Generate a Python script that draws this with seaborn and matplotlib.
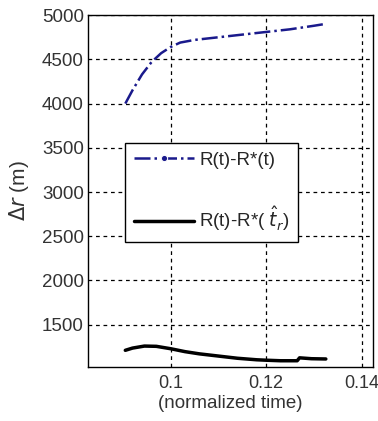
import numpy as np
import pandas as pd
import matplotlib
matplotlib.use("Agg")
import matplotlib.pyplot as plt
import seaborn as sns

# values
t_star = [0.0905, 0.092, 0.094, 0.096, 0.098, 0.100, 0.102, 0.105, 0.110, 0.115, 0.120, 0.125, 0.130, 0.1323]
dr_star = [4000, 4150, 4330, 4470, 4570, 4640, 4690, 4720, 4750, 4780, 4810, 4840, 4880, 4900]

t_hat = [0.0905, 0.092, 0.0945, 0.097, 0.100, 0.103, 0.106, 0.110, 0.114, 0.118, 0.120, 0.123, 0.1265, 0.127, 0.1295, 0.1325]
dr_hat = [1210, 1235, 1258, 1255, 1228, 1195, 1170, 1145, 1120, 1103, 1098, 1092, 1092, 1125, 1115, 1112]

sns.set_style("white")
plt.rcParams['font.family'] = ['Liberation Sans', 'DejaVu Sans']
plt.rcParams['mathtext.fontset'] = 'dejavusans'

fig = plt.figure(figsize=(3.78, 4.21), dpi=100)
ax = fig.add_axes([0.233, 0.128, 0.754, 0.836])

df1 = pd.DataFrame({"t": t_star, "dr": dr_star})
df2 = pd.DataFrame({"t": t_hat, "dr": dr_hat})

sns.lineplot(data=df1, x="t", y="dr", ax=ax, color="#1a1a8c", linestyle="-.", linewidth=1.8,
             label="R(t)-R*(t)")
sns.lineplot(data=df2, x="t", y="dr", ax=ax, color="black", linewidth=2.5,
             label=r"R(t)-R*( $\hat{t}_r$)")

ax.set_xlim(0.0827, 0.1424)
ax.set_ylim(1020, 5000)
ax.set_xticks([0.1, 0.12, 0.14])
ax.set_xticklabels(["0.1", "0.12", "0.14"])
ax.set_yticks([1500, 2000, 2500, 3000, 3500, 4000, 4500, 5000])
ax.grid(True, color="black", linestyle=(0, (3, 3)), linewidth=0.9)
ax.tick_params(axis="y", labelsize=13.5, colors="#333333", length=0, pad=3)
ax.tick_params(axis="x", labelsize=13, colors="#333333", length=0, pad=6)
for s in ax.spines.values():
    s.set_color("black")
    s.set_linewidth(1.0)

ax.set_xlabel("(normalized time)", fontsize=13.5, color="#333333", labelpad=2)
ax.set_ylabel(r"$\Delta r$ (m)", fontsize=15, color="#333333", labelpad=8)

leg = ax.legend(loc="upper left", bbox_to_anchor=(0.13, 0.636), fontsize=13.5,
                frameon=True, fancybox=False, edgecolor="black", framealpha=1,
                handlelength=3.2, handletextpad=0.3, labelspacing=1.9,
                borderpad=0.45, borderaxespad=0)
leg.get_frame().set_linewidth(1.0)
h = leg.get_lines()[0]
h.set_marker(".")
h.set_markersize(9)
h.set_markevery([1])

fig.savefig("out.png", dpi=100)
